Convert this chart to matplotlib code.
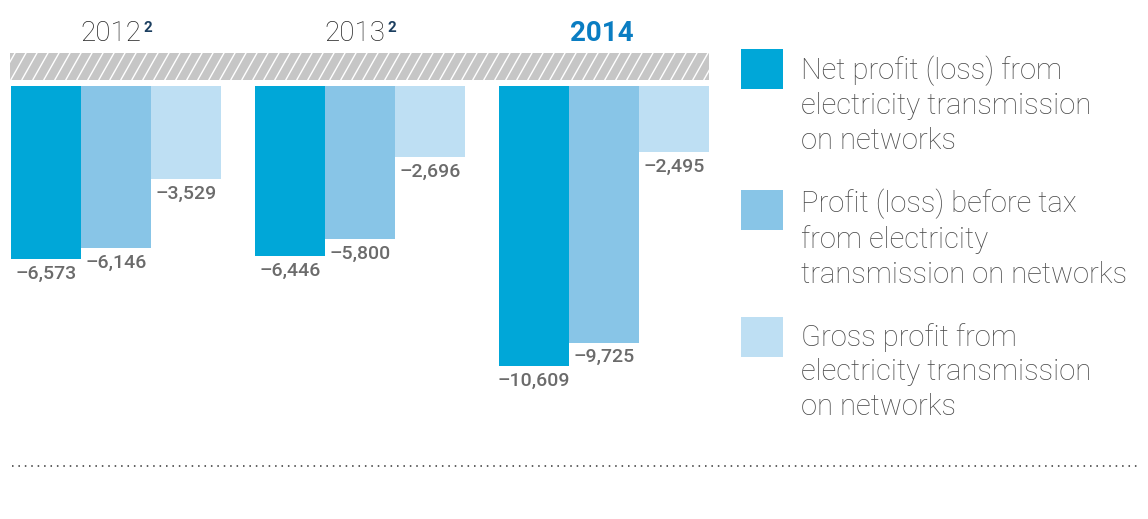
import numpy as np
import matplotlib
matplotlib.use("Agg")
import matplotlib.pyplot as plt
from matplotlib.patches import Rectangle

# Data
years = ["2012", "2013", "2014"]
year_notes = ["2", "2", ""]
series_names = [
    "Net profit (loss) from\nelectricity transmission\non networks",
    "Profit (loss) before tax\nfrom electricity\ntransmission on networks",
    "Gross profit from\nelectricity transmission\non networks",
]
net_profit = [-6573, -6446, -10609]
profit_before_tax = [-6146, -5800, -9725]
gross_profit = [-3529, -2696, -2495]

colors = ["#00A7D8", "#88C5E7", "#BEDFF3"]
label_color = "#6b6b6b"
W, H = 1148, 519

plt.rcParams['font.family'] = ['Roboto', 'DejaVu Sans']

fig = plt.figure(figsize=(W / 100, H / 100), dpi=100)

# overlay axes in pixel coordinates for decoration
deco = fig.add_axes([0, 0, 1, 1])
deco.set_xlim(0, W)
deco.set_ylim(H, 0)
deco.axis("off")

# main bar axes (pixel x 0..720, y 30..420)
ax = fig.add_axes([0, 1 - 420 / H, 720 / W, 390 / H])
ax.axis("off")
u_per_px = 37.9
ax.set_xlim(-116 / 244, (720 - 116) / 244)
ax.set_ylim(-(420 - 86) * u_per_px, (86 - 30) * u_per_px)

x = np.arange(len(years))
width = 70 / 244
all_series = [net_profit, profit_before_tax, gross_profit]
for s, vals in enumerate(all_series):
    pos = x + (s - 1) * width
    ax.bar(pos, vals, width=width, color=colors[s], linewidth=0)
    for p, v in zip(pos, vals):
        ax.annotate("\u2013" + format(abs(v), ","), xy=(p, v), xytext=(0, -4),
                    textcoords="offset points", ha="center", va="top",
                    fontsize=14, color=label_color, fontweight="medium")

# year labels
for i, (yr, note) in enumerate(zip(years, year_notes)):
    if note:
        ax.text(i - 5 / 244, 45 * u_per_px, yr, ha="center", va="baseline",
                fontsize=20, color="#222222", fontweight="light")
        ax.text(i + 27 / 244, 54 * u_per_px, note, ha="left", va="baseline",
                fontsize=11, color="#1c3f60", fontweight="bold")
    else:
        ax.text(i - 2 / 244, 45 * u_per_px, yr, ha="center", va="baseline",
                fontsize=20, color="#0A7DC2", fontweight="bold")

# hatched band
band = Rectangle((10, 53), 699, 26.5, facecolor="#C6C6C6", edgecolor="none")
deco.add_patch(band)
for x0 in np.arange(0, 730, 11):
    ln, = deco.plot([x0, x0 + 15], [79.5, 53], color="white", lw=1.0)
    ln.set_clip_path(band)

# dotted rule
deco.plot([12, 1138], [466, 466], color="#333333", lw=1.1,
          linestyle=(0, (1, 3.2)))

# legend (text anchored at baseline of its last line)
sq_tops = [49, 190, 317]
last_base = [149, 283, 415]
for c, name, t, b in zip(colors, series_names, sq_tops, last_base):
    deco.add_patch(Rectangle((741, t), 42, 40, facecolor=c, edgecolor="none"))
    deco.text(801, b, name, ha="left", va="baseline", fontsize=21,
              color="#4a4a4a", fontweight="light", linespacing=1.3)

fig.savefig("out.png", dpi=100)
